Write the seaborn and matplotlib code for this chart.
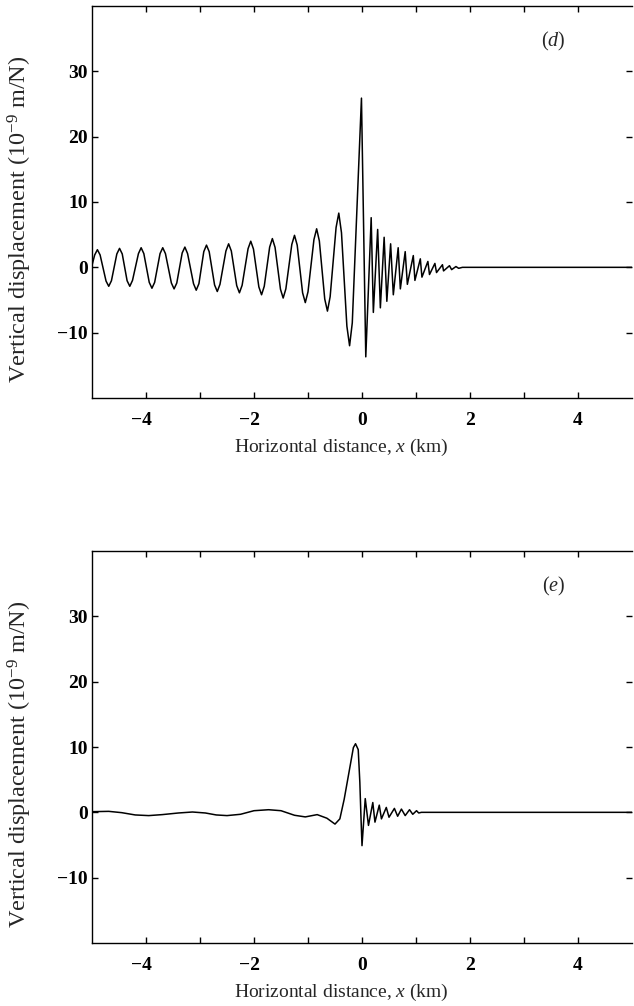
import matplotlib
matplotlib.use('Agg')
import matplotlib.pyplot as plt
import seaborn as sns
import pandas as pd

# panel (d): points (km, 1e-9 m/N)
d_x = [-5.00, -4.95, -4.90, -4.85, -4.74, -4.69, -4.64, -4.54, -4.49, -4.44,
       -4.35, -4.30, -4.25, -4.14, -4.09, -4.04, -3.94, -3.89, -3.84, -3.74,
       -3.69, -3.64, -3.53, -3.48, -3.43, -3.33, -3.28, -3.23, -3.12, -3.07,
       -3.02, -2.93, -2.88, -2.83, -2.73, -2.68, -2.63, -2.52, -2.47, -2.42,
       -2.32, -2.27, -2.22, -2.11, -2.06, -2.01, -1.91, -1.86, -1.81, -1.71,
       -1.66, -1.61, -1.51, -1.46, -1.41, -1.30, -1.25, -1.20, -1.10, -1.05,
       -1.00, -0.89, -0.84, -0.79, -0.69, -0.64, -0.59, -0.48, -0.43, -0.38,
       -0.28, -0.23, -0.18, -0.01, 0.07, 0.17, 0.21, 0.29, 0.34, 0.41,
       0.46, 0.53, 0.58, 0.67, 0.71, 0.80, 0.84, 0.95, 0.98, 1.08,
       1.11, 1.22, 1.25, 1.35, 1.38, 1.49, 1.51, 1.62, 1.66, 1.74,
       1.79, 1.86, 5.00]
d_y = [0.3, 1.9, 2.7, 1.9, -2.1, -2.9, -2.05, 2.05, 2.9, 2.05,
       -2.05, -2.9, -2.0, 2.1, 3.0, 2.1, -2.3, -3.2, -2.3, 2.1,
       3.0, 2.1, -2.4, -3.3, -2.4, 2.2, 3.1, 2.1, -2.5, -3.5,
       -2.5, 2.4, 3.4, 2.4, -2.7, -3.7, -2.6, 2.5, 3.6, 2.5,
       -2.8, -3.9, -2.75, 2.85, 4.0, 2.8, -3.0, -4.2, -2.9, 3.1,
       4.4, 3.05, -3.35, -4.7, -3.3, 3.5, 4.9, 3.4, -3.9, -5.4,
       -3.75, 4.25, 5.9, 4.05, -4.85, -6.7, -4.5, 6.1, 8.3, 5.3,
       -9.0, -12.0, -8.5, 25.9, -13.7, 7.6, -6.9, 5.8, -6.2, 4.6,
       -5.2, 3.6, -4.2, 3.0, -3.3, 2.4, -2.6, 1.8, -2.0, 1.3,
       -1.5, 0.9, -1.1, 0.6, -0.8, 0.4, -0.55, 0.25, -0.35, 0.12,
       -0.15, 0.0, 0.0]

# panel (e)
e_x = [-5.00, -4.69, -4.45, -4.20, -3.95, -3.70, -3.40, -3.14, -2.90, -2.70,
       -2.50, -2.25, -2.00, -1.73, -1.50, -1.25, -1.05, -0.83, -0.65, -0.50,
       -0.41, -0.33, -0.22, -0.16, -0.12, -0.07, -0.04, -0.02, 0.00, 0.06,
       0.12, 0.20, 0.24, 0.32, 0.36, 0.45, 0.50, 0.60, 0.66, 0.73,
       0.80, 0.88, 0.94, 1.01, 1.05, 1.10, 5.00]
e_y = [0.1, 0.15, -0.05, -0.4, -0.5, -0.35, -0.1, 0.05, -0.1, -0.4,
       -0.5, -0.3, 0.25, 0.4, 0.25, -0.45, -0.7, -0.35, -0.9, -1.8,
       -1.0, 2.0, 7.1, 9.9, 10.5, 9.6, 4.6, -0.5, -5.1, 2.1,
       -2.0, 1.5, -1.5, 1.1, -1.0, 0.75, -0.75, 0.6, -0.6, 0.5,
       -0.5, 0.4, -0.3, 0.25, -0.1, 0.0, 0.0]

x_ticks = [-4, -3, -2, -1, 0, 1, 2, 3, 4]
# en space after negative numbers so the digit sits on the tick
x_tick_labels = ['\u22124\u2002', '', '\u22122\u2002', '', '0', '', '2', '', '4']
y_ticks = [-10, 0, 10, 20, 30]
y_tick_labels = ['\u221210', '0', '10', '20', '30']
panels = ['d', 'e']

sns.set_theme(style='ticks')
plt.rcParams['font.family'] = ['Liberation Serif', 'DejaVu Serif']
plt.rcParams['mathtext.fontset'] = 'custom'
plt.rcParams['mathtext.rm'] = 'Liberation Serif'
plt.rcParams['mathtext.it'] = 'Liberation Serif:italic'

fig = plt.figure(figsize=(6.34, 10.06), dpi=100)
ax_d = fig.add_axes([92/634, 1 - 398/1006, 540/634, 392/1006])
ax_e = fig.add_axes([92/634, 1 - 943/1006, 540/634, 392/1006])

for ax, xs, ys, name in [(ax_d, d_x, d_y, panels[0]), (ax_e, e_x, e_y, panels[1])]:
    df = pd.DataFrame({'x': xs, 'y': ys})
    sns.lineplot(data=df, x='x', y='y', ax=ax, color='black', lw=1.1,
                 estimator=None, sort=False)
    ax.set_xlim(-5, 5)
    ax.set_ylim(-20, 40)
    ax.set_xticks(x_ticks)
    ax.set_xticklabels(x_tick_labels)
    ax.set_yticks(y_ticks)
    ax.set_yticklabels(y_tick_labels)
    ax.tick_params(direction='in', length=4, width=1, top=True, right=True,
                   labelsize=14, colors='black')
    ax.tick_params(axis='x', pad=10)
    ax.tick_params(axis='y', pad=3)
    for lbl in ax.get_xticklabels() + ax.get_yticklabels():
        lbl.set_fontweight('bold')
    for side in ['left', 'top', 'bottom']:
        ax.spines[side].set_linewidth(1.0)
        ax.spines[side].set_color('black')
    ax.spines['right'].set_visible(False)
    ax.set_xlabel('Horizontal distance, $x$ (km)', fontsize=14)
    ax.xaxis.set_label_coords(0.461, -0.100)
    ax.set_ylabel('Vertical displacement (10$^{-9}$ m/N)', fontsize=17.5)
    ax.yaxis.set_label_coords(-0.107, 0.455)
    ax.text(3.55, 34.5, '($' + name + '$)', fontsize=14.5, ha='center', va='center')

fig.savefig('out.png', dpi=100, facecolor='white')
